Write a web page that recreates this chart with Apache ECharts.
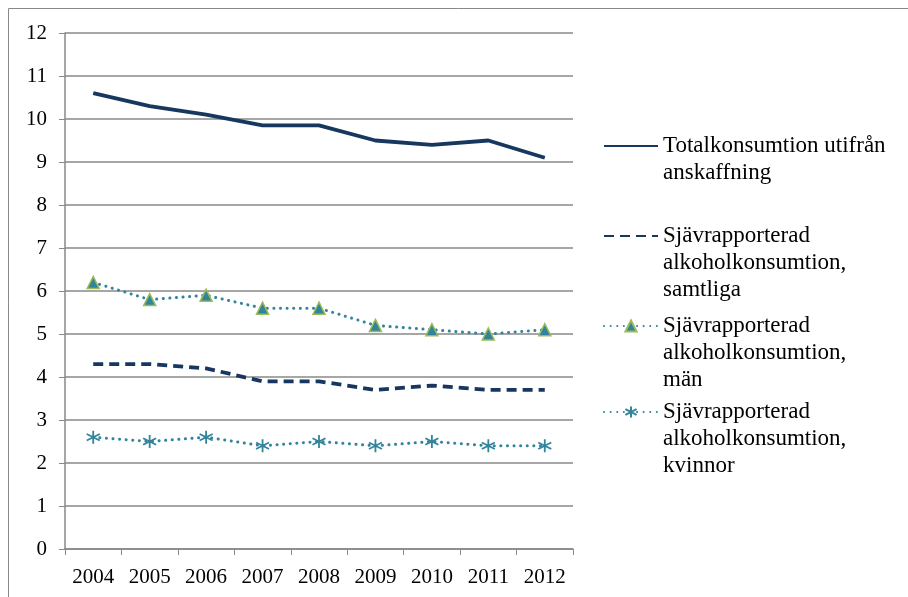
<!DOCTYPE html>
<html>
<head>
<meta charset="utf-8">
<script src="https://cdn.jsdelivr.net/npm/echarts@6/dist/echarts.min.js"></script>
<style>
	html, body { margin: 0; padding: 0; background: #fff; }
	#chart { width: 908px; height: 597px; }
</style>
</head>
<body>
<div id="chart"></div>
<script>
const years = ['2004', '2005', '2006', '2007', '2008', '2009', '2010', '2011', '2012'];
const yTicks = [0, 1, 2, 3, 4, 5, 6, 7, 8, 9, 10, 11, 12];
const totalkonsumtion = [10.6, 10.3, 10.1, 9.85, 9.85, 9.5, 9.4, 9.5, 9.1];
const samtliga = [4.3, 4.3, 4.2, 3.9, 3.9, 3.7, 3.8, 3.7, 3.7];
const man = [6.2, 5.8, 5.9, 5.6, 5.6, 5.2, 5.1, 5.0, 5.1];
const kvinnor = [2.6, 2.5, 2.6, 2.4, 2.5, 2.4, 2.5, 2.4, 2.4];
const names = [
	'Totalkonsumtion utifrån\nanskaffning',
	'Sjävrapporterad\nalkoholkonsumtion,\nsamtliga',
	'Sjävrapporterad\nalkoholkonsumtion,\nmän',
	'Sjävrapporterad\nalkoholkonsumtion,\nkvinnor'
];

const navy = '#17375e';
const teal = '#31849b';
const font = 'Liberation Serif';
const star = 'path://M0,-10L0,10M-8.7,-5L8.7,5M-8.7,5L8.7,-5';
const lineH = 27;

const chart = echarts.init(document.getElementById('chart'));

// one legend per item; blank lines in front keep the icon on the first text line
const iconY = [146, 236, 326, 412];
const legends = names.map((n, i) => {
	const lines = n.split('\n').length;
	const boxH = (2 * lines - 1) * lineH;
	return {
		data: [n],
		left: 603,
		top: iconY[i] - boxH / 2,
		padding: 0,
		orient: 'vertical',
		itemWidth: 54,
		itemHeight: 14,
		selectedMode: false,
		itemStyle: i < 2 ? { opacity: 0 } : {},
		formatter: name => '\n'.repeat(lines - 1) + name,
		textStyle: {
			fontFamily: font,
			fontSize: 23,
			color: '#000',
			lineHeight: lineH
		}
	};
});

chart.setOption({
	animation: false,
	backgroundColor: '#fff',
	textStyle: { fontFamily: font },
	legend: legends,
	graphic: [
		{ type: 'line', shape: { x1: 8.5, y1: 8.5, x2: 908, y2: 8.5 }, style: { stroke: '#888', lineWidth: 1 } },
		{ type: 'line', shape: { x1: 8.5, y1: 8.5, x2: 8.5, y2: 597 }, style: { stroke: '#888', lineWidth: 1 } }
	],
	grid: {
		left: 65,
		right: 335,
		top: 33,
		bottom: 48
	},
	xAxis: {
		type: 'category',
		data: years,
		boundaryGap: true,
		axisLine: { lineStyle: { color: '#888', width: 1.5 } },
		axisTick: { show: true, length: 6, lineStyle: { color: '#888' } },
		axisLabel: { fontFamily: font, fontSize: 21, color: '#000', margin: 18 }
	},
	yAxis: {
		type: 'value',
		min: yTicks[0],
		max: yTicks[yTicks.length - 1],
		interval: 1,
		axisLine: { show: true, lineStyle: { color: '#888', width: 1.5 } },
		axisTick: { show: true, length: 6, lineStyle: { color: '#888' } },
		axisLabel: { fontFamily: font, fontSize: 21, color: '#000', margin: 18 },
		splitLine: { lineStyle: { color: '#888', width: 1.5 } }
	},
	series: [
		{
			name: names[0],
			type: 'line',
			data: totalkonsumtion,
			showSymbol: false,
			symbol: 'none',
			lineStyle: { color: navy, width: 3.8 },
			itemStyle: { color: navy }
		},
		{
			name: names[1],
			type: 'line',
			data: samtliga,
			showSymbol: false,
			symbol: 'none',
			lineStyle: { color: navy, width: 3.8, type: [10, 6] },
			itemStyle: { color: navy }
		},
		{
			name: names[2],
			type: 'line',
			data: man,
			symbol: 'triangle',
			symbolSize: 12,
			lineStyle: { color: teal, width: 3, type: [0.1, 6.5], cap: 'round' },
			itemStyle: { color: teal, borderColor: '#9bbb59', borderWidth: 1.5 }
		},
		{
			name: names[3],
			type: 'line',
			data: kvinnor,
			symbol: star,
			symbolSize: 13,
			lineStyle: { color: teal, width: 3, type: [0.1, 6.5], cap: 'round' },
			itemStyle: { color: 'none', borderColor: teal, borderWidth: 1.8 }
		}
	]
});
</script>
</body>
</html>
